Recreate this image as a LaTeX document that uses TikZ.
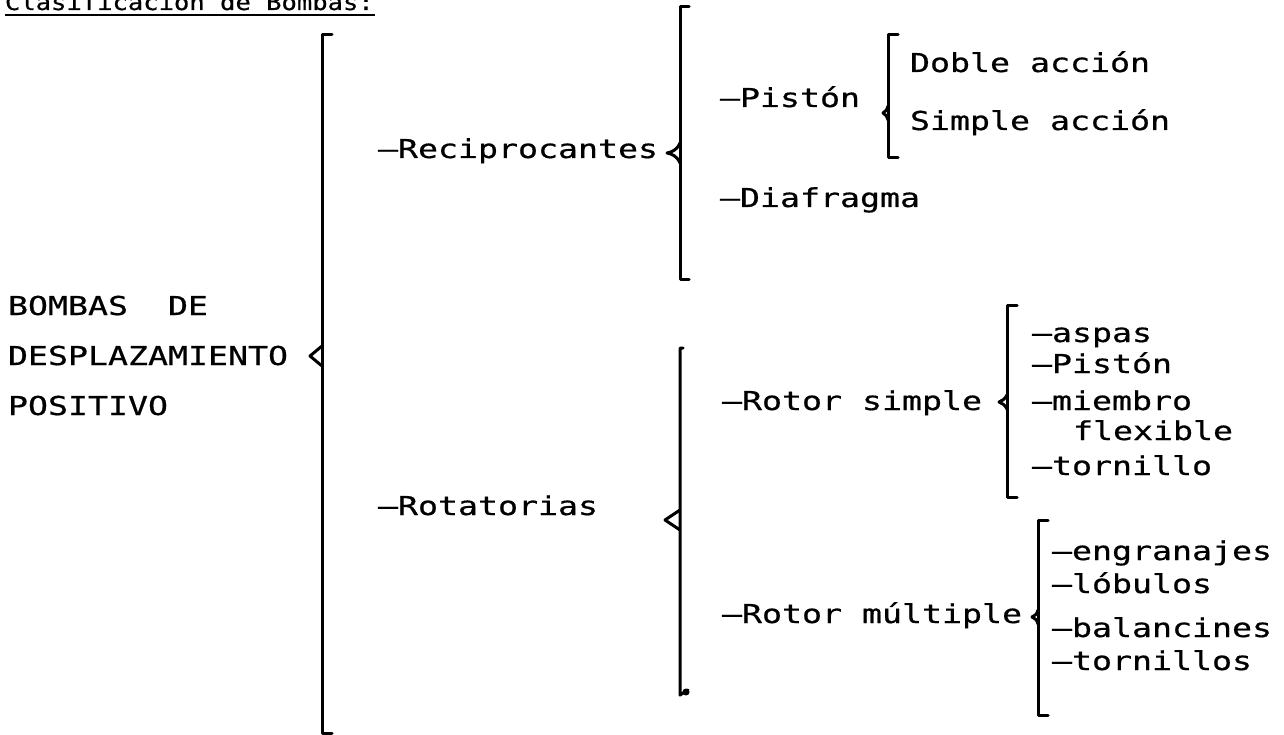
\documentclass[tikz,border=0pt]{standalone}
\usepackage{fontspec}
\newfontfamily\tw[FakeStretch=1.278,FakeBold=0.6]{DejaVu Sans Mono}
\newfontfamily\twt[FakeStretch=1.16,FakeBold=0.6]{DejaVu Sans Mono}
\tikzset{
  lbl/.style={anchor=base west, inner sep=0pt, outer sep=0pt, font=\tw\fontsize{26}{30}\selectfont},
  ttl/.style={anchor=base west, inner sep=0pt, outer sep=0pt, font=\twt\fontsize{22}{26}\selectfont},
  brk/.style={line width=3pt, line join=round, line cap=round},
}
\begin{document}
\begin{tikzpicture}[x=1pt,y=-1pt]
\useasboundingbox (0,0) rectangle (1284,735);
% title
\node[ttl] (title) at (5,10) {Clasificación de Bombas:};
\draw[line width=2.5pt] (5,15) -- (375,15);
% level 0
\node[lbl] (b1) at (8,315) {BOMBAS\ \ DE};
\node[lbl] (b2) at (8,365) {DESPLAZAMIENTO};
\node[lbl] (b3) at (8,415) {POSITIVO};
% big bracket
\draw[brk] (332,35) -- (322,35) -- (322,733) -- (332,733);
\draw[brk] (322,346) -- (310,356) -- (322,366);
% level 1
\node[lbl] (rec) at (378,158) {–Reciprocantes};
\node[lbl] (rot) at (378,515) {–Rotatorias};
% Reciprocantes bracket
\draw[brk] (689,7) -- (680,7) -- (680,279) -- (689,279);
\draw[brk] (680,143) .. controls (677,150) and (672,152) .. (667,153) .. controls (672,154) and (677,156) .. (680,163);
% level 2 reciprocantes
\node[lbl] (pis) at (720,107) {–Pistón};
\node[lbl] (dia) at (720,207) {–Diafragma};
\draw[brk] (898,35) -- (888,35) -- (888,158) -- (898,158);
\draw[brk] (888,106) .. controls (887,110) and (885,112) .. (883,113) .. controls (885,114) and (887,116) .. (888,120);
\node[lbl] (dob) at (910,72) {Doble acción};
\node[lbl] (sim) at (910,130) {Simple acción};
% Rotatorias bracket
\draw[brk] (683,348) -- (680,348) -- (680,695) -- (688,690);
\fill (686,692) circle (3.5pt);
\draw[brk] (680,510) -- (665,520) -- (680,530);
% level 2 rotatorias
\node[lbl] (rs) at (722,410) {–Rotor simple};
\node[lbl] (rm) at (722,623) {–Rotor múltiple};
\draw[brk] (1017,305) -- (1007,305) -- (1007,497) -- (1017,497);
\draw[brk] (1007,395) .. controls (1005,399) and (1002,401) .. (999,402) .. controls (1002,403) and (1005,405) .. (1007,409);
\node[lbl] (a1) at (1032,342) {–aspas};
\node[lbl] (a2) at (1032,373) {–Pistón};
\node[lbl] (a3) at (1032,410) {–miembro};
\node[lbl] (a4) at (1073,440) {flexible};
\node[lbl] (a5) at (1032,475) {–tornillo};
\draw[brk] (1048,520) -- (1038,520) -- (1038,715) -- (1048,715);
\draw[brk] (1038,610) .. controls (1037,614) and (1035,616) .. (1032,617) .. controls (1035,618) and (1037,620) .. (1038,624);
\node[lbl] (m1) at (1052,560) {–engranajes};
\node[lbl] (m2) at (1052,593) {–lóbulos};
\node[lbl] (m3) at (1052,637) {–balancines};
\node[lbl] (m4) at (1052,670) {–tornillos};
\end{tikzpicture}
\end{document}
